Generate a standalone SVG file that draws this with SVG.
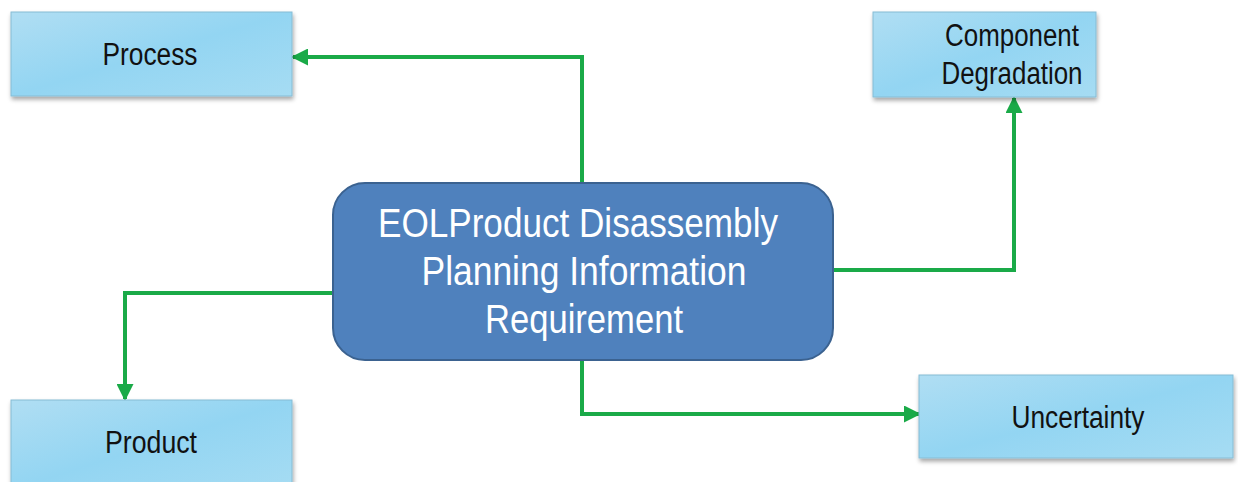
<svg xmlns="http://www.w3.org/2000/svg" width="1238" height="482" viewBox="0 0 1238 482">
<style>
.box{fill:url(#lb);stroke:#86bcd4;stroke-width:1;filter:url(#sh)}
.lbl{font-family:"Liberation Sans",Arial,sans-serif;font-size:31px;fill:#111;text-anchor:middle}
.big{font-family:"Liberation Sans",Arial,sans-serif;font-size:40px;fill:#fff;text-anchor:middle}
.con{fill:none;stroke:#1aaa48;stroke-width:4;marker-end:url(#ar)}
</style>
<defs>
<linearGradient id="lb" x1="0" y1="0" x2="1" y2="1">
<stop offset="0" stop-color="#b0def3"/>
<stop offset="0.5" stop-color="#93d5f2"/>
<stop offset="1" stop-color="#a6dcf3"/>
</linearGradient>
<filter id="sh" x="-10%" y="-10%" width="120%" height="130%">
<feDropShadow dx="1" dy="3" stdDeviation="2" flood-color="#000" flood-opacity="0.35"/>
</filter>
<marker id="ar" markerUnits="userSpaceOnUse" markerWidth="17" markerHeight="17" refX="15" refY="8.5" orient="auto" viewBox="0 0 17 17">
<path d="M0,0 L17,8.5 L0,17 z" fill="#1aaa48"/>
</marker>
</defs>
<g id="connectors">
<path class="con" d="M582,183 V57 H293"/>
<path class="con" d="M833,270 H1014 V98"/>
<path class="con" d="M333,293 H125 V399"/>
<path class="con" d="M582,360 V414 H919"/>
</g>
<g id="process">
<rect class="box" x="11" y="12" width="281" height="84"/>
<text class="lbl" x="150" y="65" textLength="95" lengthAdjust="spacingAndGlyphs">Process</text>
</g>
<g id="component-degradation">
<rect class="box" x="873" y="12" width="223" height="85"/>
<text class="lbl" x="1012" y="46" textLength="134" lengthAdjust="spacingAndGlyphs">Component</text>
<text class="lbl" x="1012" y="84" textLength="141" lengthAdjust="spacingAndGlyphs">Degradation</text>
</g>
<g id="center">
<rect x="333" y="183" width="500" height="177" rx="32" ry="32" fill="#4f81bd" stroke="#3b6290" stroke-width="2"/>
<text class="big" x="578" y="237" textLength="400" lengthAdjust="spacingAndGlyphs">EOLProduct Disassembly</text>
<text class="big" x="584" y="285" textLength="325" lengthAdjust="spacingAndGlyphs">Planning Information</text>
<text class="big" x="584" y="333" textLength="198" lengthAdjust="spacingAndGlyphs">Requirement</text>
</g>
<g id="product">
<rect class="box" x="11" y="400" width="281" height="90"/>
<text class="lbl" x="151" y="453" textLength="92" lengthAdjust="spacingAndGlyphs">Product</text>
</g>
<g id="uncertainty">
<rect class="box" x="919" y="375" width="314" height="83"/>
<text class="lbl" x="1078" y="428" textLength="133" lengthAdjust="spacingAndGlyphs">Uncertainty</text>
</g>
</svg>
